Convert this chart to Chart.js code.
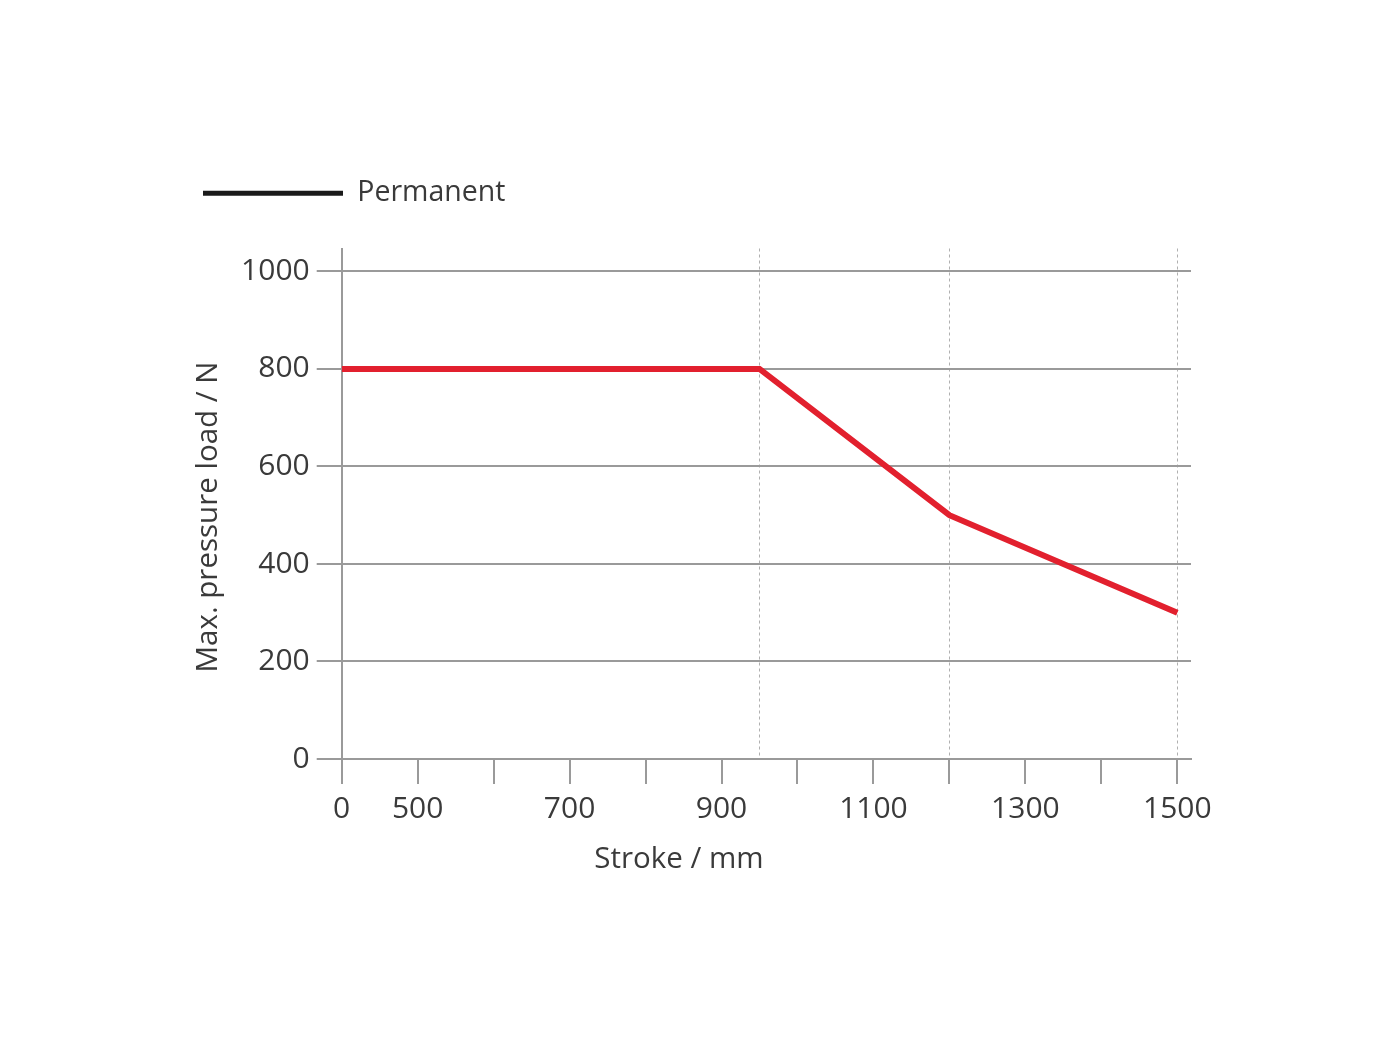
<!DOCTYPE html>
<html>
<head>
<meta charset="utf-8">
<title>Max. pressure load vs stroke</title>
<script src="https://cdn.jsdelivr.net/npm/chart.js@4.4.1/dist/chart.umd.min.js"></script>
<style>
  html, body { margin: 0; padding: 0; background: #fff; }
  #wrap { width: 1400px; height: 1050px; position: relative; }
</style>
</head>
<body>
<div id="wrap"><canvas id="chart" width="1400" height="1050"></canvas></div>
<script>
(function () {
  'use strict';

  // data (stroke in mm, load in N)
  var strokeValues = [0, 950, 1200, 1500];
  var loadValues = [800, 800, 500, 300];

  // the x axis is broken: 0 then 500..1500 in steps of 100
  var xTickValues = [0, 500, 600, 700, 800, 900, 1000, 1100, 1200, 1300, 1400, 1500];
  var xTickLabels = ['0', '500', '', '700', '', '900', '', '1100', '', '1300', '', '1500'];
  var yTickValues = [0, 200, 400, 600, 800, 1000];
  var refStrokes = [950, 1200, 1500];

  var TEXT = '#3a3a3a';
  var GRID = '#9a9a9a';
  var FONT = '"Open Sans", "Noto Sans", sans-serif';

  function axisPos(v) {
    return v < 500 ? v / 500 : 1 + (v - 500) / 100;
  }

  var points = strokeValues.map(function (s, i) {
    return { x: axisPos(s), y: loadValues[i] };
  });

  var PAD = { top: 169, right: 209, bottom: 171, left: 193 };
  var PLOT_LEFT = 341.7;

  // extra gap under the legend
  var legendGap = {
    id: 'legendGap',
    beforeInit: function (chart) {
      var fit = chart.legend.fit;
      chart.legend.fit = function () {
        fit.call(this);
        this.height += 31;
      };
    }
  };

  // axis titles placed like the original
  var axisTitles = {
    id: 'axisTitles',
    afterDraw: function (chart) {
      var ctx = chart.ctx;
      ctx.save();
      ctx.fillStyle = TEXT;
      ctx.font = '29.5px ' + FONT;
      ctx.textAlign = 'center';
      ctx.textBaseline = 'middle';
      ctx.fillText('Stroke / mm', 679, 860);
      ctx.translate(209, 517);
      ctx.rotate(-Math.PI / 2);
      ctx.fillText('Max. pressure load / N', 0, 0);
      ctx.restore();
    }
  };

  new Chart(document.getElementById('chart').getContext('2d'), {
    type: 'line',
    data: {
      datasets: [{
        label: 'Permanent',
        data: points,
        borderColor: '#e2202e',
        backgroundColor: '#e2202e',
        borderWidth: 6,
        pointRadius: 0,
        tension: 0,
        fill: false
      }]
    },
    options: {
      responsive: false,
      animation: false,
      devicePixelRatio: 1,
      layout: { padding: PAD },
      plugins: {
        tooltip: { enabled: false },
        legend: {
          position: 'top',
          align: 'start',
          labels: {
            padding: 10,
            boxWidth: 140,
            boxHeight: 5,
            color: TEXT,
            font: { family: FONT, size: 28.5 },
            generateLabels: function (chart) {
              return chart.data.datasets.map(function (ds, i) {
                return {
                  text: ds.label,
                  fillStyle: '#1a1a1a',
                  strokeStyle: '#1a1a1a',
                  lineWidth: 0,
                  fontColor: TEXT,
                  datasetIndex: i
                };
              });
            }
          }
        }
      },
      scales: {
        x: {
          type: 'linear',
          position: 'bottom',
          min: 0,
          max: 11.18,
          afterBuildTicks: function (scale) {
            scale.ticks = xTickValues.map(function (v) { return { value: axisPos(v) }; });
          },
          afterFit: function (scale) {
            scale.height = 120;
            scale.paddingLeft = 0;
            scale.paddingRight = 0;
          },
          ticks: {
            autoSkip: false,
            maxRotation: 0,
            padding: 7,
            color: TEXT,
            font: { family: FONT, size: 30 },
            callback: function (value, index) { return xTickLabels[index]; }
          },
          grid: {
            drawOnChartArea: false,
            drawTicks: true,
            tickLength: 25,
            color: GRID,
            lineWidth: 2
          },
          border: { display: true, color: GRID, width: 2 }
        },
        xr: {
          type: 'linear',
          position: 'bottom',
          min: 0,
          max: 11.18,
          afterBuildTicks: function (scale) {
            scale.ticks = refStrokes.map(function (v) { return { value: axisPos(v) }; });
          },
          afterFit: function (scale) {
            scale.height = 0;
            scale.paddingLeft = 0;
            scale.paddingRight = 0;
          },
          ticks: { display: false },
          grid: {
            drawOnChartArea: true,
            drawTicks: false,
            color: '#b0b0b0',
            lineWidth: 1
          },
          border: { display: false, dash: [3, 3] }
        },
        y: {
          type: 'linear',
          position: 'left',
          min: 0,
          max: 1047,
          afterBuildTicks: function (scale) {
            scale.ticks = yTickValues.map(function (v) { return { value: v }; });
          },
          afterFit: function (scale) {
            scale.width = PLOT_LEFT - PAD.left;
            scale.paddingTop = 0;
            scale.paddingBottom = 0;
          },
          ticks: {
            padding: 7,
            color: TEXT,
            font: { family: FONT, size: 30 },
            callback: function (value) { return String(value); }
          },
          grid: {
            drawOnChartArea: true,
            drawTicks: true,
            tickLength: 25,
            color: GRID,
            lineWidth: 2
          },
          border: { display: true, color: GRID, width: 2 }
        }
      }
    },
    plugins: [legendGap, axisTitles]
  });
})();
</script>
</body>
</html>
